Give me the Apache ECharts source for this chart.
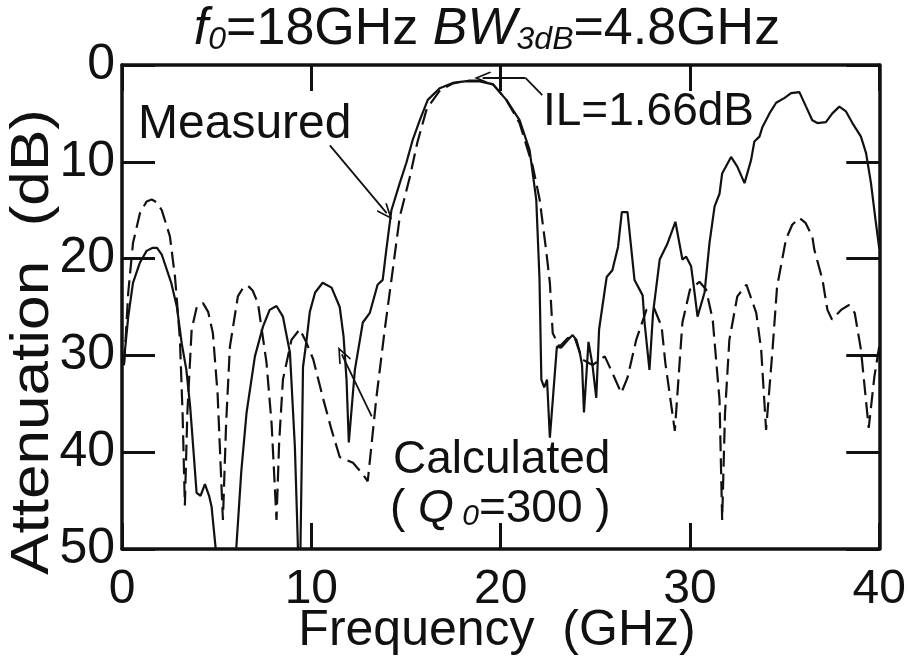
<!DOCTYPE html>
<html>
<head>
<meta charset="utf-8">
<script src="https://cdn.jsdelivr.net/npm/echarts@6/dist/echarts.min.js"></script>
<style>
  html, body { margin: 0; padding: 0; background: #ffffff; }
  #chart { width: 909px; height: 657px; }
</style>
</head>
<body>
<div id="chart"></div>
<script>
// Band-pass filter response: measured vs. calculated attenuation
const measuredFreq = [
  0.1, 0.16, 0.33, 0.58, 0.95, 1.3, 1.6, 1.85, 2.1, 2.36, 2.6, 2.9, 3.15, 3.4, 3.6, 3.8, 3.94, 4.15, 4.38, 4.6, 4.73, 4.85, 5.0, 5.5, 6.0,
  6.3, 6.58, 7.02, 7.45, 7.8, 8.16, 8.5, 8.87, 9.13, 9.25, 9.38, 9.5, 9.56, 9.75, 9.92, 10.2, 10.6, 11.07, 11.5, 11.7, 11.86, 11.98,
  12.3, 12.72, 13.09, 13.5, 13.77, 13.96, 14.23, 14.67, 15.02, 15.36, 15.73, 16.15, 16.78, 17.47, 18.2, 18.9, 19.6, 20.3, 21.0,
  21.53, 21.88, 22.05, 22.15, 22.3, 22.45, 22.6, 22.97, 23.2, 23.55, 23.8, 24.0, 24.17, 24.3, 24.4, 24.64, 24.85, 25.05, 25.2,
  25.6, 25.9, 26.2, 26.4, 26.7, 27.07, 27.5, 27.6, 27.86, 28.05, 28.4, 28.8, 29.23, 29.6, 29.8, 30.06, 30.24, 30.4, 30.77, 31.03,
  31.3, 31.56, 31.7, 32.17, 32.5, 32.88, 33.23, 33.4, 33.67, 33.83, 34.2, 34.55, 35.0, 35.34, 35.78, 36.13, 36.46, 36.73, 37.18,
  37.52, 37.89, 38.24, 38.58, 39.03, 39.3, 39.56, 39.8, 40.0
];
const measuredAtten = [
  31, 29.4, 26, 22.5, 20.4, 19.2, 18.9, 18.9, 19.6, 21.1, 22.5, 25, 28.7, 31.5, 35.3, 40.5, 44.2, 44.5, 43.3, 44.5, 45.6, 48, 51, 60, 51,
  42, 35.9, 30.1, 27, 25.3, 24.9, 26, 29.7, 39.4, 47, 56, 40, 31.2, 28.4, 25.5, 23.5, 22.5, 23, 25, 28, 32.5, 39,
  31.5, 26.6, 25.6, 22.7, 22.2, 19.1, 15, 12.2, 10.1, 7.7, 5.7, 3.6, 2.4, 1.85, 1.66, 1.7, 2.0, 3.6, 5.7,
  8.8, 13.9, 22, 32.5, 33.3, 32.5, 38.5, 29.1, 29.2, 28.4, 27.9, 28.4, 29.6, 31, 35.9, 28.6, 31, 34.4, 27.3,
  21.9, 21.2, 18.8, 15.2, 15.2, 22.2, 23.8, 26.6, 31.5, 25.6, 20.1, 18.5, 16.2, 20.1, 19.8, 20.8, 23.5, 26, 23.5, 18.4,
  14.6, 13.3, 11.2, 9.5, 10.5, 12.2, 9.8, 7.9, 7.4, 6.4, 5, 3.9, 3.4, 2.9, 2.8, 4.3, 5.7, 6, 5.9,
  5, 4.3, 4.8, 6, 7.4, 9.1, 12.2, 16, 19
];
const calcFreq = [
  0.1, 0.2, 0.33, 0.58, 0.95, 1.3, 1.57, 1.85, 2.1, 2.53, 2.8, 2.9, 3.06, 3.2, 3.32, 3.45, 3.68, 3.95, 4.28, 4.55, 4.8, 5.05, 5.33,
  5.5, 5.7, 6.12, 6.4, 6.65, 6.9, 7.18, 7.63, 7.9, 8.16, 8.3, 8.5, 8.95, 9.39, 9.7, 10.1, 10.6, 11.07, 11.5, 12.2, 12.65, 12.98,
  13.44, 13.88, 14.23, 14.67, 15.2, 15.6, 16.1, 16.8, 17.5, 18.2, 18.9, 19.6, 20.3, 21.0, 21.7, 22.06, 22.4, 22.6, 22.75, 23.1,
  23.55, 23.9, 24.3, 24.85, 25.5, 25.9, 26.37, 26.7, 27.16, 27.7, 28.1, 28.5, 28.7, 29.2, 29.6, 30.0, 30.5, 30.85, 31.2, 31.56,
  31.7, 31.85, 32.08, 32.5, 32.98, 33.5, 33.76, 34.02, 34.36, 34.6, 35.07, 35.4, 35.78, 36.1, 36.46, 36.57, 37.0, 37.26, 37.5,
  37.98, 38.4, 38.7, 39.03, 39.44, 39.74, 40.0
];
const calcAtten = [
  31, 28, 23.5, 18.4, 15.3, 14.1, 13.9, 14.2, 15, 17.7, 21.9, 24.3, 28.4, 36, 45.5, 36, 27.3, 25, 24.6, 25.5, 27.7, 34, 47,
  37, 29.1, 23.9, 23, 22.8, 23.3, 24.6, 30.7, 37, 47, 39, 32.5, 28.4, 27.3, 28.5, 30.4, 34.3, 37.7, 40.5, 41.1, 42.1, 43,
  34.3, 27.3, 22.2, 15.7, 11.6, 8, 4.5, 2.6, 1.9, 1.6, 1.6, 2.0, 3.6, 6, 10.5, 13.9, 19.1, 22.5, 27.7, 29.1,
  28.2, 28.1, 30.4, 31, 30.1, 31.8, 33.9, 32.3, 28.4, 25.3, 25.1, 27, 30.8, 37.8, 26.6, 23.2, 22.4, 23.2, 26.3, 34.6,
  47, 36, 28.4, 23.9, 22.7, 25.6, 29.4, 37.7, 29.4, 22.9, 18, 16.5, 15.8, 16.3, 17.7, 19.1, 22.2, 25.3, 26.3,
  25.3, 24.8, 25.6, 29.4, 37.5, 32.2, 29
];
const freqTicks = [0, 10, 20, 30, 40];
const attenTicks = [0, 10, 20, 30, 40, 50];

// Annotation arrows in data units [GHz, dB]
const measuredArrow = [[10.98, 8.3], [13.98, 15.3]];
const calcArrow = [[13.19, 36.3], [11.61, 29.9]];
const ilArrow = [[22.2, 3.1], [21.32, 1.35], [19.05, 1.35]];

const FONT = '"Liberation Sans", Arial, Helvetica, sans-serif';
const INK = '#111111';
const zip = (a, b) => a.map((v, i) => [v, b[i]]);
const chevron = 'path://M50,0 L100,88 L90,95 L50,24 L10,95 L0,88 Z';

const chart = echarts.init(document.getElementById('chart'), null, { renderer: 'canvas' });

const frameLine = { show: true, onZero: false, lineStyle: { color: INK, width: 3.5 } };
const xBase = {
  type: 'value', min: freqTicks[0], max: freqTicks[freqTicks.length - 1], interval: freqTicks[1] - freqTicks[0],
  axisLine: frameLine, splitLine: { show: false },
  axisTick: { show: true, inside: true, length: 26, lineStyle: { color: INK, width: 3 } }
};
const yBase = {
  type: 'value', inverse: true, min: attenTicks[0], max: attenTicks[attenTicks.length - 1], interval: attenTicks[1] - attenTicks[0],
  axisLine: frameLine, splitLine: { show: false },
  axisTick: { show: true, inside: true, length: 33, lineStyle: { color: INK, width: 3 } }
};

const arrowLine = (pts, withHead) => [
  { coord: pts[0], symbol: 'none' },
  { coord: pts[1], symbol: withHead ? chevron : 'none', symbolSize: [13, 17] }
];

chart.setOption({
  animation: false,
  backgroundColor: '#ffffff',
  grid: { left: 122, right: 29, top: 65, bottom: 108, containLabel: false },
  xAxis: [
    Object.assign({}, xBase, {
      position: 'bottom',
      axisLabel: { show: true, color: INK, fontSize: 48, fontFamily: FONT, margin: 17 }
    }),
    Object.assign({}, xBase, { position: 'top', axisLabel: { show: false } })
  ],
  yAxis: [
    Object.assign({}, yBase, {
      position: 'left',
      axisLabel: { show: true, color: INK, fontSize: 50, fontFamily: FONT, margin: 7 }
    }),
    Object.assign({}, yBase, { position: 'right', axisLabel: { show: false } })
  ],
  series: [
    {
      name: 'Measured', type: 'line', data: zip(measuredFreq, measuredAtten),
      symbol: 'none', clip: true, smooth: false,
      lineStyle: { color: INK, width: 2.2 },
      markLine: {
        silent: true, animation: false,
        label: { show: false },
        lineStyle: { color: INK, width: 1.8, type: 'solid' },
        emphasis: { disabled: true },
        data: [
          arrowLine(measuredArrow, true),
          arrowLine(calcArrow, true),
          arrowLine([ilArrow[0], ilArrow[1]], false),
          arrowLine([ilArrow[1], ilArrow[2]], true)
        ]
      }
    },
    {
      name: 'Calculated', type: 'line', data: zip(calcFreq, calcAtten),
      symbol: 'none', clip: true, smooth: false,
      lineStyle: { color: INK, width: 2.2, type: [16, 7] }
    }
  ],
  graphic: [
    {
      type: 'text', x: 487, y: 4,
      style: {
        text: '{i|f}{s|0}{n|=18GHz }{i|BW}{s|3dB}{n|=4.8GHz}',
        fill: INK, textAlign: 'center',
        rich: {
          i: { fontSize: 52, fontStyle: 'italic', fontFamily: FONT, lineHeight: 52, verticalAlign: 'bottom' },
          s: { fontSize: 32, fontStyle: 'italic', fontFamily: FONT, lineHeight: 32, verticalAlign: 'bottom' },
          n: { fontSize: 52, fontFamily: FONT, lineHeight: 52, verticalAlign: 'bottom' }
        }
      }
    },
    {
      type: 'text', x: 138, y: 125,
      style: { text: 'Measured', font: '48px ' + FONT, fill: INK, textVerticalAlign: 'middle' }
    },
    {
      type: 'text', x: 543, y: 112,
      style: { text: 'IL=1.66dB', font: '46px ' + FONT, fill: INK, textVerticalAlign: 'middle' }
    },
    {
      type: 'text', x: 393, y: 460,
      style: { text: 'Calculated', font: '46px ' + FONT, fill: INK, textVerticalAlign: 'middle' }
    },
    {
      type: 'text', x: 390, y: 486,
      style: {
        text: '{n|( }{i|Q}{s| 0}{n|=300 )}',
        fill: INK,
        rich: {
          i: { fontSize: 46, fontStyle: 'italic', fontFamily: FONT, lineHeight: 46, verticalAlign: 'bottom' },
          s: { fontSize: 30, fontStyle: 'italic', fontFamily: FONT, lineHeight: 30, verticalAlign: 'bottom' },
          n: { fontSize: 46, fontFamily: FONT, lineHeight: 46, verticalAlign: 'bottom' }
        }
      }
    },
    {
      type: 'text', x: 497, y: 631,
      style: { text: 'Frequency  (GHz)', font: '50px ' + FONT, fill: INK, textAlign: 'center', textVerticalAlign: 'middle' }
    },
    {
      type: 'text', x: 33, y: 342, rotation: Math.PI / 2, scaleX: 1.15,
      style: { text: 'Attenuation  (dB)', font: '54px ' + FONT, fill: INK, textAlign: 'center', textVerticalAlign: 'middle' }
    }
  ]
});
</script>
</body>
</html>
